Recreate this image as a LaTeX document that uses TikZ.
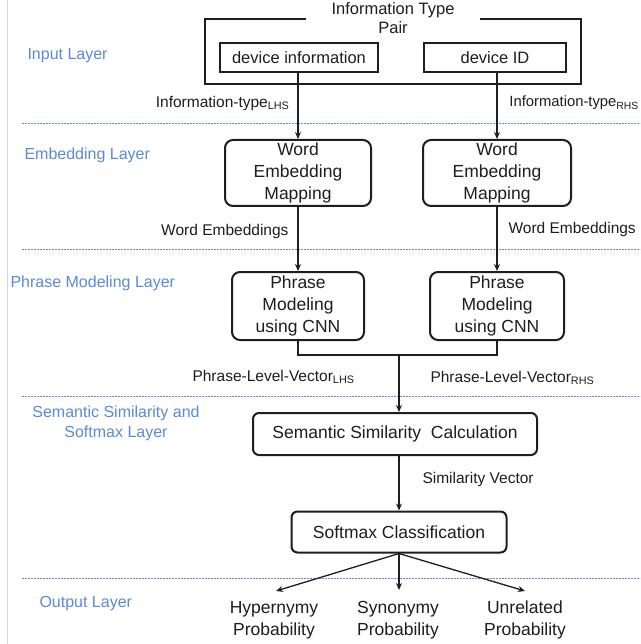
\documentclass[tikz,border=0pt]{standalone}
\usepackage{fontspec}
\setmainfont{Liberation Sans}
\usetikzlibrary{arrows.meta}
\definecolor{ink}{RGB}{30,30,30}
\definecolor{layerblue}{RGB}{90,138,216}
\definecolor{rulegray}{RGB}{215,215,215}
\tikzset{
  boxtext/.style={font=\fontsize{17.5}{22}\selectfont, text=ink, align=center},
  smalltext/.style={font=\fontsize{16.5}{19}\selectfont, text=ink, align=center},
  plainbox/.style={smalltext, draw=ink, line width=2pt, inner sep=0pt},
  roundbox/.style={boxtext, draw=ink, line width=2pt, inner sep=0pt, rounded corners=8pt},
  flowlabel/.style={font=\fontsize{15.5}{18}\selectfont, text=ink},
  layerlabel/.style={font=\fontsize{16}{20}\selectfont, text=layerblue, align=center},
  layerrule/.style={layerblue, line width=0.9pt, dash pattern=on 2pt off 1pt},
  link/.style={ink, line width=1.3pt},
  arrowlink/.style={link, -{Stealth[length=7pt,width=6pt]}},
  outtext/.style={boxtext, inner sep=0pt}
}
\begin{document}
\begin{tikzpicture}[x=1pt,y=-1pt]
\useasboundingbox (0,0) rectangle (640,644);
\fill[white] (0,0) rectangle (640,644);
\draw[rulegray, line width=0.8pt] (7,0) -- (7,644);

% layer separators
\foreach \yy in {123,249,396,578}
  \draw[layerrule] (22,\yy) -- (640,\yy);

% layer names
\node[layerlabel, anchor=west] (lin) at (24,56) {Input Layer};
\node[layerlabel, anchor=west] (lemb) at (21,155) {Embedding Layer};
\node[layerlabel, anchor=west] (lphr) at (7,283) {Phrase Modeling Layer};
\node[layerlabel] (lsem) at (116,423) {Semantic Similarity and\\Softmax Layer};
\node[layerlabel, anchor=west] (lout) at (36,604) {Output Layer};

% input pair
\node[smalltext, inner sep=0pt] (pair) at (393,18.5) {Information Type\\Pair};
\draw[ink, line width=2pt] (306,19) -- (205,19) -- (205,84) -- (581,84) -- (581,19) -- (480,19);
\node[plainbox, minimum width=158pt, minimum height=29pt] (devinfo) at (299,58) {device information};
\node[plainbox, minimum width=142pt, minimum height=29pt] (devid) at (495,58) {device ID};

% embedding layer
\node[roundbox, minimum width=146pt, minimum height=66pt] (emb1) at (298,173) {Word\\Embedding\\Mapping};
\node[roundbox, minimum width=148pt, minimum height=66pt] (emb2) at (497,173) {Word\\Embedding\\Mapping};

% phrase modeling layer
\node[roundbox, minimum width=132pt, minimum height=68pt] (phr1) at (298,306) {Phrase\\Modeling\\using CNN};
\node[roundbox, minimum width=134pt, minimum height=68pt] (phr2) at (497,306) {Phrase\\Modeling\\using CNN};

% similarity and softmax
\node[roundbox, rounded corners=6pt, minimum width=284pt, minimum height=42pt] (sem) at (395,434) {Semantic Similarity\ \ Calculation};
\node[roundbox, rounded corners=6pt, minimum width=215pt, minimum height=41pt] (soft) at (399,532) {Softmax Classification};

% outputs
\node[outtext] (hyp) at (274,620) {Hypernymy\\Probability};
\node[outtext] (syn) at (398,620) {Synonymy\\Probability};
\node[outtext] (unr) at (525,620) {Unrelated\\Probability};

% connectors
\draw[arrowlink] (devinfo.south -| emb1.north) -- (emb1.north);
\draw[arrowlink] (devid.south -| emb2.north) -- (emb2.north);
\draw[arrowlink] (emb1.south) -- (phr1.north);
\draw[arrowlink] (emb2.south) -- (phr2.north);
\coordinate (join) at (399,355);
\draw[link] (phr1.south) |- (join);
\draw[link] (phr2.south) |- (join);
\draw[arrowlink] (join) -- (join |- sem.north);
\draw[arrowlink] (sem.south -| soft.north) -- (soft.north);
\coordinate (hypend) at (276,591);
\coordinate (synend) at (399,590);
\coordinate (unrend) at (525,591);
\draw[arrowlink] (soft.south) -- (hypend);
\draw[arrowlink] (soft.south) -- (synend);
\draw[arrowlink] (soft.south) -- (unrend);

% connector labels
\node[flowlabel, anchor=east] (ltl) at (293,103) {Information-type\textsubscript{LHS}};
\node[flowlabel, font=\fontsize{14.8}{18}\selectfont, anchor=east, inner xsep=1pt] (ltr) at (640,103) {Information-type\textsubscript{RHS}};
\node[flowlabel, anchor=east] (wel) at (292,231) {Word Embeddings};
\node[flowlabel, anchor=west] (wer) at (505,229) {Word Embeddings};
\node[flowlabel, anchor=west] (pvl) at (189,377) {Phrase-Level-Vector\textsubscript{LHS}};
\node[flowlabel, anchor=west] (pvr) at (427,378) {Phrase-Level-Vector\textsubscript{RHS}};
\node[flowlabel, anchor=west] (simv) at (419,479) {Similarity Vector};
\end{tikzpicture}
\end{document}
